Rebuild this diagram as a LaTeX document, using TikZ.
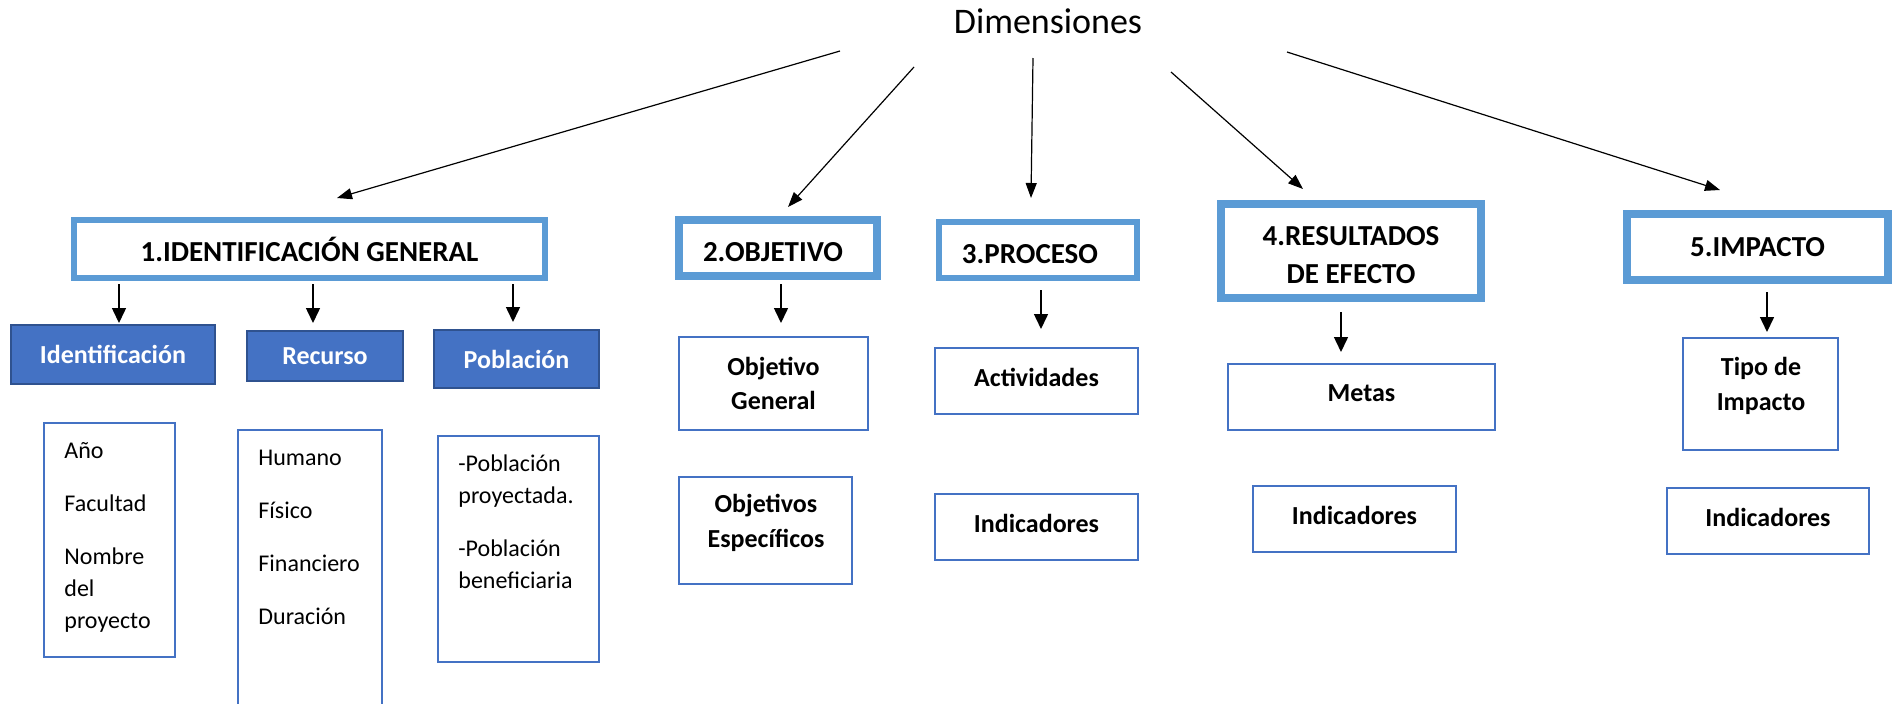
\documentclass[tikz,border=0pt]{standalone}
\usepackage{fontspec}
\setmainfont{Carlito}
\usetikzlibrary{arrows.meta}
\definecolor{hdrblue}{HTML}{5B9BD5}
\definecolor{boxblue}{HTML}{4472C4}
\definecolor{darkblue}{HTML}{2F528F}
\newcommand{\dn}{\rule{0pt}{13.5pt}}
\begin{document}
\begin{tikzpicture}[x=0.5pt,y=-0.5pt,
 hdr/.style={draw=hdrblue, fill=white, inner sep=0pt, font=\bfseries\fontsize{14.5}{19}\selectfont, align=center},
 fbox/.style={draw=darkblue, line width=0.75pt, fill=boxblue, text=white, inner sep=0pt, font=\bfseries\fontsize{13}{17}\selectfont},
 lbox/.style={draw=boxblue, line width=1pt, inner sep=0pt},
 cbox/.style={lbox, font=\bfseries\fontsize{13}{17}\selectfont, align=center},
 upt/.style={text depth=4pt},
 bt/.style={inner sep=0pt, font=\bfseries\fontsize{13}{17.5}\selectfont, align=center},
 ltxt/.style={anchor=base west, inner sep=0pt, font=\fontsize{12}{16}\selectfont},
 arr/.style={-{Triangle[length=7.5pt,width=7pt]}, line width=0.75pt},
 tarr/.style={-{Triangle[length=7.5pt,width=5.5pt]}, line width=0.6pt}]
\fill[white] (0,0) rectangle (1896,703);
\useasboundingbox (0,0) rectangle (1896,703);

% title
\node[anchor=base, inner sep=0pt, font=\fontsize{18}{22}\selectfont] (dim) at (1048,33) {Dimensiones};

% headers
\node[hdr, line width=3pt, minimum width=235.5pt, minimum height=29pt] (h1) at (309.5,249) {1.IDENTIFICACIÓN GENERAL};
\node[hdr, line width=4pt, minimum width=99pt, minimum height=28pt] (h2) at (778,248) {\dn 2.OBJETIVO\hspace*{5pt}};
\node[hdr, line width=3pt, minimum width=99pt, minimum height=28pt] (h3) at (1038,250) {\dn 3.PROCESO\hspace*{8pt}};
\node[hdr, line width=4pt, minimum width=130pt, minimum height=47pt] (h4) at (1351,251) {\dn 4.RESULTADOS\\DE EFECTO};
\node[hdr, line width=4pt, minimum width=130.5pt, minimum height=33pt] (h5) at (1757.5,247) {5.IMPACTO};

% filled boxes
\node[fbox, minimum width=102pt, minimum height=29.5pt] (f1) at (113,354.5) {Identificación\hspace{7pt}};
\node[fbox, minimum width=78pt, minimum height=25pt] (f2) at (325,356) {Recurso};
\node[fbox, minimum width=82.5pt, minimum height=29pt] (f3) at (516.5,359) {Población\hspace{7pt}};

% list boxes
\node[lbox, minimum width=65.5pt, minimum height=117pt] (l1) at (109.5,540) {};
\node[lbox, minimum width=72pt, minimum height=170pt] (l2) at (310,600) {};
\node[lbox, minimum width=80.5pt, minimum height=113pt] (l3) at (518.5,549) {};

\node[ltxt] (l1a) at (64,458) {Año};
\node[ltxt] (l1b) at (64,511) {Facultad};
\node[ltxt] (l1c) at (64,564) {Nombre};
\node[ltxt] (l1d) at (64,596) {del};
\node[ltxt] (l1e) at (64,628) {proyecto};

\node[ltxt] (l2a) at (258,465) {Humano};
\node[ltxt] (l2b) at (258,518) {Físico};
\node[ltxt] (l2c) at (258,571) {Financiero};
\node[ltxt] (l2d) at (258,624) {Duración};

\node[ltxt] (l3a) at (458,471) {-Población};
\node[ltxt] (l3b) at (458,503) {proyectada.};
\node[ltxt] (l3c) at (458,556) {-Población};
\node[ltxt] (l3d) at (458,588) {beneficiaria};

% objetivo
\node[cbox, minimum width=94.5pt, minimum height=46.5pt] (o1) at (773.5,383.5) {Objetivo\\General};
\node[lbox, minimum width=86.5pt, minimum height=53.5pt] (o2) at (765.5,530.5) {};
\node[bt] (o2t) at (766,522.5) {Objetivos\\Específicos};

% proceso
\node[cbox, upt, minimum width=101.5pt, minimum height=33pt] (p1) at (1036.5,381) {Actividades};
\node[cbox, upt, minimum width=101.5pt, minimum height=33pt] (p2) at (1036.5,527) {Indicadores};

% resultados
\node[cbox, upt, minimum width=133.5pt, minimum height=33pt] (r1) at (1361.5,397) {Metas};
\node[cbox, upt, minimum width=101.5pt, minimum height=33pt] (r2) at (1354.5,519) {Indicadores};

% impacto
\node[lbox, minimum width=77.5pt, minimum height=56pt] (i1) at (1760.5,394) {};
\node[bt] (i1t) at (1761,386) {Tipo de\\Impacto};
\node[cbox, upt, minimum width=101pt, minimum height=33pt] (i2) at (1768,521) {Indicadores};

% top arrows
\coordinate (ts1) at (840,51);   \coordinate (te1) at (337,198);
\coordinate (ts2) at (914,67);   \coordinate (te2) at (788,207);
\coordinate (ts3) at (1033,58);  \coordinate (te3) at (1031,198);
\coordinate (ts4) at (1171,72);  \coordinate (te4) at (1303,189);
\coordinate (ts5) at (1287,52);  \coordinate (te5) at (1720,190);
\draw[tarr] (ts1) -- (te1);
\draw[tarr] (ts2) -- (te2);
\draw[tarr] (ts3) -- (te3);
\draw[tarr] (ts4) -- (te4);
\draw[tarr] (ts5) -- (te5);

% down arrows
\coordinate (ds1) at (119,284);  \coordinate (de1) at (119,323);
\coordinate (ds2) at (313,284);  \coordinate (de2) at (313,323);
\coordinate (ds3) at (513,284);  \coordinate (de3) at (513,322);
\coordinate (ds4) at (781,284);  \coordinate (de4) at (781,323);
\coordinate (ds5) at (1041,290); \coordinate (de5) at (1041,329);
\coordinate (ds6) at (1341,312); \coordinate (de6) at (1341,352);
\coordinate (ds7) at (1767,292); \coordinate (de7) at (1767,332);
\draw[arr] (ds1) -- (de1);
\draw[arr] (ds2) -- (de2);
\draw[arr] (ds3) -- (de3);
\draw[arr] (ds4) -- (de4);
\draw[arr] (ds5) -- (de5);
\draw[arr] (ds6) -- (de6);
\draw[arr] (ds7) -- (de7);
\end{tikzpicture}
\end{document}
